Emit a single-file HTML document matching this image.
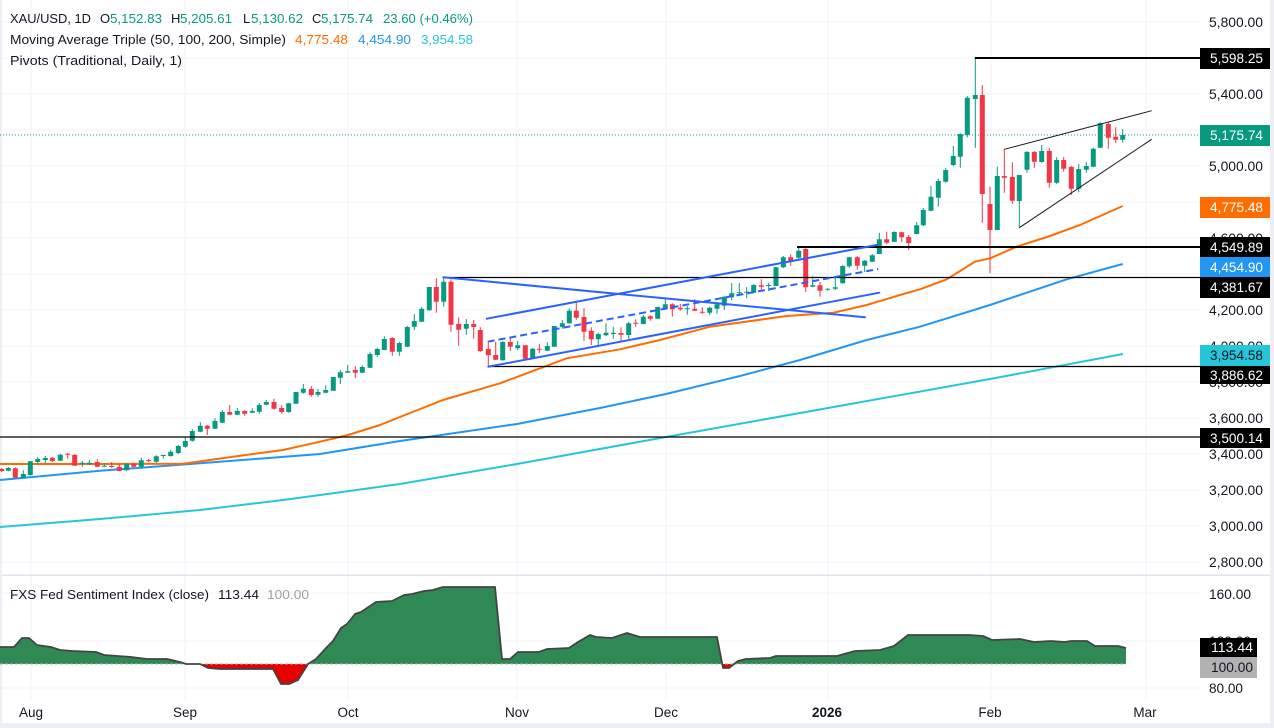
<!DOCTYPE html>
<html><head><meta charset="utf-8"><style>
html,body{margin:0;padding:0;background:#fff;}
svg{display:block;font-family:"Liberation Sans",Arial,sans-serif;}
</style></head><body>
<svg width="1274" height="728" viewBox="0 0 1274 728" xmlns="http://www.w3.org/2000/svg">
<defs>
<clipPath id="above"><rect x="0" y="575" width="1200" height="89"/></clipPath>
<clipPath id="below"><rect x="0" y="664" width="1200" height="40"/></clipPath>
<clipPath id="plot"><rect x="0" y="0" width="1200" height="575"/></clipPath>
</defs>
<rect width="1274" height="728" fill="#fff"/>
<!-- grid -->
<g stroke="#f0f3fa" stroke-width="1">
<path d="M0 22H1200M0 58H1200M0 94H1200M0 130H1200M0 166H1200M0 202H1200M0 238H1200M0 274H1200M0 310H1200M0 346H1200M0 382H1200M0 418H1200M0 454H1200M0 490H1200M0 526H1200M0 562H1200"/>
<path d="M0 593H1200M0 641H1200M0 688H1200"/>
<path d="M31 0V700M185 0V700M348 0V700M517 0V700M666 0V700M828 0V700M991 0V700M1146 0V700"/>
</g>
<!-- pane separator -->
<rect x="0" y="574.5" width="1270" height="1.5" fill="#e0e3eb"/>
<!-- frame -->
<rect x="0" y="0" width="2" height="728" fill="#eeeff4"/>
<rect x="1270" y="0" width="4" height="728" fill="#eeeff4"/>
<rect x="0" y="723" width="1274" height="5" fill="#eeeff4"/>

<g clip-path="url(#plot)">
<!-- moving averages -->
<polyline fill="none" stroke="#26c6da" stroke-width="2" points="0,527 100,519 200,510 283,500 320,495 400,484 517,464 666,437 828,408 990,379 1123,354"/>
<polyline fill="none" stroke="#2196f3" stroke-width="2" points="0,480 100,470.7 200,463.3 320,454 400,441 517,424 600,408 666,394 740,376 800,360 866.7,340 920,326.7 990,305 1066.7,279.3 1122.7,264"/>
<polyline fill="none" stroke="#ff6d00" stroke-width="2" points="0,464 100,464 183,463.7 233,456.7 283,450 320,441.7 348,435 380,425 410,413 443,400 500,383.3 566.7,358.3 620,349.3 660,340 710,326.7 786.7,316 833.3,312.7 866.7,305 900,295 920,289.3 946.7,279.3 975,261.7 990,258.3 1016.7,246.7 1050,236 1080,225 1122.7,206"/>

<!-- last price dotted -->
<path d="M0 135H1200" stroke="#089981" stroke-width="1" stroke-dasharray="1 2"/>

<!-- candles -->
<path stroke="#089981" stroke-width="1" fill="none" d="M8.3 467V471.3M23.3 470.3V478.3M30.3 461V475.7M37.7 457V464.3M45.3 456V463.7M60.3 453.7V461M82.3 461V466.7M89.3 460V465M104.3 463.3V467M126.7 463V470.7M141.3 458V468.7M156.3 455.3V462.7M163.3 454.7V458.7M170.7 450V456.7M178.3 444.7V454M185.3 437.3V447.7M192.3 429V441.7M200.3 422V432.3M215 418.3V429M222.3 410V423M237.3 408V415.3M252.3 408.3V413M259.3 403V413.7M266.3 400V405.3M288.7 402.7V412.7M296 392V404M303.3 384V393.7M318 389V396.7M325.7 385.3V393.3M333.3 376.7V391M340.3 370V384M347.7 365V372.7M362.3 365.3V373.3M370 352.3V368M377.3 347.7V356.7M384.3 336.3V350.3M399.3 341.7V355.7M407.3 325.7V347M414.3 314V330M421.7 307V322M429.3 286.7V310.7M443.7 277.3V306.7M466.3 319V334.7M502.7 341V360.7M517.7 341V350M532.7 347.7V359M547.3 342V351M554.3 326V347M562.3 320V328.7M569.3 308.3V323.7M598.3 332.7V346M606 323.3V336M613.3 326.7V338.7M628.7 321.7V339.3M643.3 315V324.3M657.7 306.7V319M665.3 299.3V309.7M687.3 306V314.7M709.7 306.7V315M717 302.3V314M724.3 296.3V309.7M731.7 283V300.3M739.3 283V295M746.7 287V298.3M753.7 284.3V293M768.7 282.7V291M776 267V286.3M783.3 256V268.3M798.7 247.3V258.7M812.7 275.7V287.3M827.7 288.3V290.7M835.3 277.3V290.3M842.7 265.3V283.7M849.3 256.7V268M864.7 260V272M872.3 254V262M879.3 232.7V254M894.3 231.3V242M916.7 222V234.3M923.3 208V226M931 186V211.3M938.3 178.7V206.7M945.7 168V182.7M953.3 146V166.3M960.3 133.3V167.7M967.3 96V137.3M975.3 57.3V147.7M997.3 166.7V230M1019.3 175V227.7M1027 151V172.7M1041.7 145V162.7M1056.7 157.3V184M1078.7 164V192.3M1086.3 162.3V172.7M1093.3 147.7V167.3M1100.3 122.3V148M1122.7 129V142.7"/>
<path fill="#089981" d="M5.8 468h5V470.7h-5zM20.8 474h5V477.7h-5zM27.8 461.3h5V475h-5zM35.2 459h5V462h-5zM42.8 458h5V460h-5zM57.8 454.7h5V460.7h-5zM79.8 462.7h5V463.7h-5zM86.8 462.7h5V464.3h-5zM101.8 465.7h5V466.7h-5zM124.2 463.7h5V470.3h-5zM138.8 460.3h5V466.7h-5zM153.8 456.3h5V461.7h-5zM160.8 455h5V456h-5zM168.2 451.7h5V456h-5zM175.8 446h5V453h-5zM182.8 441h5V446.7h-5zM189.8 431h5V440.7h-5zM197.8 425.7h5V431.7h-5zM212.5 421h5V428.7h-5zM219.8 412h5V422.7h-5zM234.8 411h5V414.7h-5zM249.8 411h5V412.7h-5zM256.8 405h5V411.7h-5zM263.8 402h5V404.7h-5zM286.2 403.3h5V412h-5zM293.5 392h5V403.7h-5zM300.8 388.7h5V392.7h-5zM315.5 392h5V394.7h-5zM323.2 390h5V392.7h-5zM330.8 377h5V390.7h-5zM337.8 372.3h5V377.7h-5zM345.2 371.3h5V372.7h-5zM359.8 367h5V372.7h-5zM367.5 354h5V367.7h-5zM374.8 349h5V355h-5zM381.8 339h5V350h-5zM396.8 343h5V351.7h-5zM404.8 327h5V346.7h-5zM411.8 321h5V326.7h-5zM419.2 308.7h5V321.7h-5zM426.8 287h5V310.3h-5zM441.2 281.7h5V301.7h-5zM463.8 324h5V328.7h-5zM500.2 342h5V360.3h-5zM515.2 345.3h5V348.3h-5zM530.2 348.7h5V358h-5zM544.8 346h5V350.7h-5zM551.8 326h5V346.7h-5zM559.8 323.3h5V327h-5zM566.8 310.7h5V323.3h-5zM595.8 334h5V339.3h-5zM603.5 332.7h5V335.3h-5zM610.8 332.7h5V334h-5zM626.2 323.3h5V335h-5zM640.8 316.7h5V324h-5zM655.2 307h5V318.7h-5zM662.8 304.3h5V308.3h-5zM684.8 308.3h5V309.3h-5zM707.2 307.7h5V312.7h-5zM714.5 304.3h5V308.7h-5zM721.8 296.7h5V305.7h-5zM729.2 293.3h5V297.3h-5zM736.8 292.3h5V293.3h-5zM744.2 291.7h5V292.7h-5zM751.2 285h5V292.7h-5zM766.2 285h5V286h-5zM773.5 267.3h5V286h-5zM780.8 257.3h5V267.3h-5zM796.2 250.7h5V257.7h-5zM810.2 285.3h5V286.7h-5zM825.2 288.7h5V289.7h-5zM832.8 287.3h5V288.7h-5zM840.2 266h5V283.3h-5zM846.8 257.3h5V266.3h-5zM862.2 260.7h5V265.7h-5zM869.8 255.3h5V261.7h-5zM876.8 239.3h5V254h-5zM891.8 232h5V241.7h-5zM914.2 225.3h5V234h-5zM920.8 210h5V225.3h-5zM928.5 196.7h5V210.7h-5zM935.8 181h5V197.7h-5zM943.2 170h5V181.7h-5zM950.8 156h5V165h-5zM957.8 134h5V156.7h-5zM964.8 97.7h5V135h-5zM972.8 95h5V99h-5zM994.8 176h5V230h-5zM1016.8 175h5V201h-5zM1024.5 152h5V169.7h-5zM1039.2 151h5V162h-5zM1054.2 160h5V182.7h-5zM1076.2 169h5V188.7h-5zM1083.8 166h5V169.7h-5zM1090.8 148.7h5V166.7h-5zM1097.8 123.3h5V147.7h-5zM1120.2 135h5V139.7h-5z"/>
<path stroke="#f23645" stroke-width="1" fill="none" d="M1.7 468V472M15.3 467.3V477.7M52.3 457V462M67.7 453V458.7M74.7 454V465.7M97.3 459.3V467M111.7 462V468M119.3 464V471.3M133.7 462.7V467.7M148.7 458.7V462M207.3 425V435M229.7 405V414.7M244.7 410.3V415.7M274 398.7V409.7M281.7 405.3V413.7M311.3 386V396.7M355.3 366V378.3M392.3 337.3V355.7M436.3 278.3V312.7M451 279.3V331.7M458.7 317.3V345.7M473.7 320V338.7M480.3 327.3V351.7M488.3 342.7V366.7M495.7 341.7V360M510.3 338.3V351M525.3 345V359.3M539.3 343.7V353M576.3 302V319.7M584 308.3V341M591.3 327.3V345M621 327.3V341.7M635.7 319.3V327M650.3 315.3V320.7M672.3 303.3V316.7M680.3 304V310.7M694.7 299V311M702.3 307.3V314M761.3 279.3V291.3M790.7 254.3V265.7M805.7 247.7V292M820 282V296.7M857.3 256V269.7M886.7 231.7V244M901.7 232V242M908.7 235V250M982.3 85V222.7M990 186.7V273.3M1004.3 149.3V192.7M1012.3 162.3V204M1034.3 151V167.7M1049.3 148V187.7M1063.7 157V171.7M1071.3 166V195M1108.3 121.7V148.7M1115.7 127.3V143.3"/>
<path fill="#f23645" d="M-0.8 469h5V471h-5zM12.8 468.3h5V477.7h-5zM49.8 457.7h5V461h-5zM65.2 453.7h5V454.7h-5zM72.2 455h5V465.7h-5zM94.8 462h5V466.7h-5zM109.2 466h5V467h-5zM116.8 467h5V471h-5zM131.2 463.7h5V466.7h-5zM146.2 460h5V461h-5zM204.8 425.7h5V428.7h-5zM227.2 412h5V414.7h-5zM242.2 411h5V413.7h-5zM271.5 402h5V408.7h-5zM279.2 408h5V412h-5zM308.8 389h5V395h-5zM352.8 370h5V372.7h-5zM389.8 338h5V351.7h-5zM433.8 287h5V301.7h-5zM448.5 281.7h5V324.7h-5zM456.2 324h5V329.7h-5zM471.2 324h5V327h-5zM477.8 330h5V351h-5zM485.8 349h5V355.3h-5zM493.2 355h5V359.7h-5zM507.8 342h5V346.7h-5zM522.8 345.3h5V358.7h-5zM536.8 348.7h5V349.7h-5zM573.8 310.7h5V317.7h-5zM581.5 317h5V331.7h-5zM588.8 330.7h5V339.3h-5zM618.5 333h5V334.7h-5zM633.2 322.7h5V323.7h-5zM647.8 316.3h5V318.7h-5zM669.8 304.3h5V309.3h-5zM677.8 307.7h5V309.3h-5zM692.2 308.7h5V310.7h-5zM699.8 311.7h5V312.7h-5zM758.8 285.3h5V286.7h-5zM788.2 257.3h5V260.7h-5zM803.2 249h5V287.3h-5zM817.5 285.3h5V290.7h-5zM854.8 257.3h5V265.7h-5zM884.2 239.3h5V242.7h-5zM899.2 232.3h5V237.3h-5zM906.2 237h5V243h-5zM979.8 95h5V194h-5zM987.5 204h5V230h-5zM1001.8 176h5V177.7h-5zM1009.8 177h5V200.7h-5zM1031.8 152h5V161.7h-5zM1046.8 151h5V182.7h-5zM1061.2 160h5V168.7h-5zM1068.8 167h5V188.7h-5zM1105.8 124h5V137.7h-5zM1113.2 136.7h5V139.7h-5z"/>

<!-- pivot lines -->
<path d="M975 58H1200M797 247H1200" stroke="#000" stroke-width="2"/>
<path d="M443 277.5H1200M488 366.5H1200M0 437H1200" stroke="#000" stroke-width="1.3"/>

<!-- blue drawings -->
<g stroke="#2962ff" stroke-width="2" fill="none" stroke-linecap="round">
<path d="M443.3 277.3L865 317.3"/>
<path d="M486.7 318.7L876.7 245"/>
<path d="M488.3 366.7L879.3 292.7"/>
<path d="M487.7 341.7L878.3 269" stroke-dasharray="7 4" stroke-linecap="butt"/>
</g>
<!-- wedge -->
<g stroke="#131722" stroke-width="1" fill="none">
<path d="M1004.3 149.3L1151.7 110.7"/>
<path d="M1019.3 227.7L1151.7 139.3"/>
</g>
</g>

<!-- sub pane -->
<path clip-path="url(#above)" fill="#2e8954" d="M0,664 L0,647 14,647 22,638 29,638 37,645 51,647 60,650 73,651 96,652 104,655 131,657 147,659 167,659 180,662 186,664 200,664 208,668 220,669 273,669 281,684 289,684 298,680 308,664 316,659 327,647 333,641 341,628 347,624 355,614 361,612 376,602 392,601 404,595 412,594 424,591 433,590 443,587 495,587 502,659 510,659 518,652 539,652 547,649 569,648 578,642 590,635 596,637 612,638 627,633 640,637 717,637 723,668 729,668 738,661 746,659 770,658 776,656 837,656 855,651 880,650 894,646 908,635 969,635 983,636 992,640 1020,639 1034,642 1051,641 1065,642 1071,641 1087,641 1095,646 1118,646 1126,648 L1126,664 Z"/>
<path clip-path="url(#below)" fill="#e60000" d="M0,664 L0,647 14,647 22,638 29,638 37,645 51,647 60,650 73,651 96,652 104,655 131,657 147,659 167,659 180,662 186,664 200,664 208,668 220,669 273,669 281,684 289,684 298,680 308,664 316,659 327,647 333,641 341,628 347,624 355,614 361,612 376,602 392,601 404,595 412,594 424,591 433,590 443,587 495,587 502,659 510,659 518,652 539,652 547,649 569,648 578,642 590,635 596,637 612,638 627,633 640,637 717,637 723,668 729,668 738,661 746,659 770,658 776,656 837,656 855,651 880,650 894,646 908,635 969,635 983,636 992,640 1020,639 1034,642 1051,641 1065,642 1071,641 1087,641 1095,646 1118,646 1126,648 L1126,664 Z"/>
<path d="M0 664H1126" stroke="#b0b0b0" stroke-width="1" stroke-dasharray="3 2"/>
<polyline fill="none" stroke="#444" stroke-width="1.8" stroke-linejoin="round" points="0,647 14,647 22,638 29,638 37,645 51,647 60,650 73,651 96,652 104,655 131,657 147,659 167,659 180,662 186,664 200,664 208,668 220,669 273,669 281,684 289,684 298,680 308,664 316,659 327,647 333,641 341,628 347,624 355,614 361,612 376,602 392,601 404,595 412,594 424,591 433,590 443,587 495,587 502,659 510,659 518,652 539,652 547,649 569,648 578,642 590,635 596,637 612,638 627,633 640,637 717,637 723,668 729,668 738,661 746,659 770,658 776,656 837,656 855,651 880,650 894,646 908,635 969,635 983,636 992,640 1020,639 1034,642 1051,641 1065,642 1071,641 1087,641 1095,646 1118,646 1126,648"/>

<!-- header legend -->
<g font-size="13" fill="#131722">
<text x="10" y="23" textLength="81" lengthAdjust="spacingAndGlyphs">XAU/USD, 1D</text>
<text x="100" y="23">O</text><text x="110" y="23" fill="#089981" textLength="52" lengthAdjust="spacingAndGlyphs">5,152.83</text>
<text x="171" y="23">H</text><text x="180" y="23" fill="#089981" textLength="52" lengthAdjust="spacingAndGlyphs">5,205.61</text>
<text x="243" y="23">L</text><text x="251" y="23" fill="#089981" textLength="52" lengthAdjust="spacingAndGlyphs">5,130.62</text>
<text x="312" y="23">C</text><text x="321" y="23" fill="#089981" textLength="52" lengthAdjust="spacingAndGlyphs">5,175.74</text>
<text x="383" y="23" fill="#089981" textLength="90" lengthAdjust="spacingAndGlyphs">23.60 (+0.46%)</text>
<text x="10" y="44" textLength="276" lengthAdjust="spacingAndGlyphs">Moving Average Triple (50, 100, 200, Simple)</text>
<text x="295" y="44" fill="#ff6d00" textLength="53" lengthAdjust="spacingAndGlyphs">4,775.48</text>
<text x="358" y="44" fill="#2196f3" textLength="53" lengthAdjust="spacingAndGlyphs">4,454.90</text>
<text x="421" y="44" fill="#26c6da" textLength="52" lengthAdjust="spacingAndGlyphs">3,954.58</text>
<text x="10" y="65" textLength="172" lengthAdjust="spacingAndGlyphs">Pivots (Traditional, Daily, 1)</text>
<text x="10" y="599" textLength="199" lengthAdjust="spacingAndGlyphs">FXS Fed Sentiment Index (close)</text>
<text x="218" y="599" textLength="41" lengthAdjust="spacingAndGlyphs">113.44</text>
<text x="267" y="599" fill="#a0a0a0" textLength="42" lengthAdjust="spacingAndGlyphs">100.00</text>
</g>

<!-- right axis labels -->
<g font-size="13.5" fill="#131722">
<text x="1209" y="27" textLength="54" lengthAdjust="spacingAndGlyphs">5,800.00</text>
<text x="1209" y="99" textLength="54" lengthAdjust="spacingAndGlyphs">5,400.00</text>
<text x="1209" y="135" textLength="54" lengthAdjust="spacingAndGlyphs">5,200.00</text>
<text x="1209" y="171" textLength="54" lengthAdjust="spacingAndGlyphs">5,000.00</text>
<text x="1209" y="207" textLength="54" lengthAdjust="spacingAndGlyphs">4,800.00</text>
<text x="1209" y="243" textLength="54" lengthAdjust="spacingAndGlyphs">4,600.00</text>
<text x="1209" y="315" textLength="54" lengthAdjust="spacingAndGlyphs">4,200.00</text>
<text x="1209" y="351" textLength="54" lengthAdjust="spacingAndGlyphs">4,000.00</text>
<text x="1209" y="387" textLength="54" lengthAdjust="spacingAndGlyphs">3,800.00</text>
<text x="1209" y="423" textLength="54" lengthAdjust="spacingAndGlyphs">3,600.00</text>
<text x="1209" y="459" textLength="54" lengthAdjust="spacingAndGlyphs">3,400.00</text>
<text x="1209" y="495" textLength="54" lengthAdjust="spacingAndGlyphs">3,200.00</text>
<text x="1209" y="531" textLength="54" lengthAdjust="spacingAndGlyphs">3,000.00</text>
<text x="1209" y="567" textLength="54" lengthAdjust="spacingAndGlyphs">2,800.00</text>
<text x="1209" y="599" textLength="42" lengthAdjust="spacingAndGlyphs">160.00</text>
<text x="1209" y="646" textLength="42" lengthAdjust="spacingAndGlyphs">120.00</text>
<text x="1209" y="693" textLength="34" lengthAdjust="spacingAndGlyphs">80.00</text>
</g>

<!-- label boxes -->
<rect x="1200" y="48" width="70" height="21" fill="#000"/>
<rect x="1200" y="125" width="70" height="21" fill="#089981"/>
<rect x="1200" y="197" width="70" height="21" fill="#ff6d00"/>
<rect x="1200" y="237" width="70" height="20" fill="#000"/>
<rect x="1200" y="257" width="70" height="20" fill="#2196f3"/>
<rect x="1200" y="277" width="70" height="21" fill="#000"/>
<rect x="1200" y="345" width="70" height="21" fill="#26c6da"/>
<rect x="1200" y="366" width="70" height="18" fill="#000"/>
<rect x="1200" y="428" width="70" height="20" fill="#000"/>
<rect x="1200" y="638" width="57" height="19" fill="#000"/>
<rect x="1200" y="657" width="57" height="21" fill="#b2b2b2"/>
<g font-size="13.5" fill="#fff">
<text x="1210" y="63" textLength="53" lengthAdjust="spacingAndGlyphs">5,598.25</text>
<text x="1210" y="140" textLength="53" lengthAdjust="spacingAndGlyphs">5,175.74</text>
<text x="1210" y="212" textLength="53" lengthAdjust="spacingAndGlyphs">4,775.48</text>
<text x="1210" y="252" textLength="53" lengthAdjust="spacingAndGlyphs">4,549.89</text>
<text x="1210" y="272" textLength="53" lengthAdjust="spacingAndGlyphs">4,454.90</text>
<text x="1210" y="292" textLength="53" lengthAdjust="spacingAndGlyphs">4,381.67</text>
<text x="1210" y="360" textLength="53" lengthAdjust="spacingAndGlyphs" fill="#131722">3,954.58</text>
<text x="1210" y="380" textLength="53" lengthAdjust="spacingAndGlyphs">3,886.62</text>
<text x="1210" y="443" textLength="53" lengthAdjust="spacingAndGlyphs">3,500.14</text>
<text x="1211" y="652" textLength="42" lengthAdjust="spacingAndGlyphs">113.44</text>
<text x="1211" y="672" textLength="42" lengthAdjust="spacingAndGlyphs" fill="#131722">100.00</text>
</g>

<!-- x axis -->
<g font-size="13.5" fill="#131722" text-anchor="middle">
<text x="31" y="717">Aug</text>
<text x="185" y="717">Sep</text>
<text x="348" y="717">Oct</text>
<text x="517" y="717">Nov</text>
<text x="666" y="717">Dec</text>
<text x="827" y="717" font-weight="bold">2026</text>
<text x="990" y="717">Feb</text>
<text x="1145" y="717">Mar</text>
</g>
</svg>
</body></html>
